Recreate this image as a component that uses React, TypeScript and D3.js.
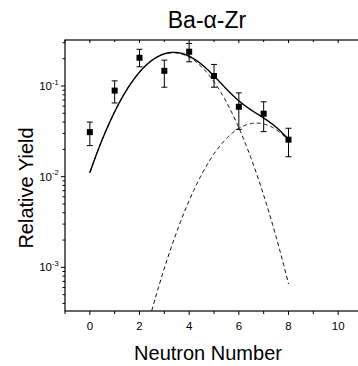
import React from "react";
import * as d3 from "d3";

const neutrons = [0, 1, 2, 3, 4, 5, 6, 7, 8];
const yields = [0.031, 0.089, 0.205, 0.147, 0.239, 0.129, 0.059, 0.0495, 0.0256];
const errLow = [0.022, 0.065, 0.163, 0.097, 0.185, 0.097, 0.0333, 0.0314, 0.0166];
const errHigh = [0.040, 0.114, 0.254, 0.193, 0.295, 0.173, 0.084, 0.067, 0.0342];

// Gaussian fit components: amplitude, centroid, width (sigma)
const fitAmplitude = [0.233, 0.039];
const fitCentroid = [3.35, 6.71];
const fitSigma = [1.357, 1.366];
const fitRange = [0, 8];

const xMajorTicks = [0, 2, 4, 6, 8, 10];
const xMinorTicks = [-1, 1, 3, 5, 7, 9, 11];
const yMajorTicks = [1e-3, 1e-2, 1e-1];
const yMajorLabels = ["-3", "-2", "-1"];

const W = 358;
const H = 366;
const left = 65;
const top = 40;
const bottom = 311;
const right = 363;
const font = "'Liberation Sans', Arial, sans-serif";

export default function App() {
  const x = d3.scaleLinear().domain([-1, 11]).range([left, right]);
  const y = d3.scaleLog().domain([3.3e-4, 0.3217]).range([bottom, top]);

  const gauss = (i: number, n: number) =>
    fitAmplitude[i] * Math.exp(-((n - fitCentroid[i]) ** 2) / (2 * fitSigma[i] ** 2));

  const samples = d3.range(fitRange[0], fitRange[1] + 0.0001, 0.02);
  const line = d3
    .line<[number, number]>()
    .x((d) => x(d[0]))
    .y((d) => y(d[1]));

  const total = line(samples.map((n) => [n, gauss(0, n) + gauss(1, n)]));
  const comp0 = line(samples.map((n) => [n, gauss(0, n)]));
  const comp1 = line(samples.map((n) => [n, Math.max(gauss(1, n), 1e-6)]));

  const yMinor: number[] = [];
  for (let e = -4; e <= 0; e++) {
    for (let k = 2; k <= 9; k++) {
      const v = k * Math.pow(10, e);
      if (v >= 3.3e-4 && v <= 0.3217) yMinor.push(v);
    }
  }

  return (
    <svg
      width={W}
      height={H}
      style={{ position: "absolute", left: 0, top: 0, background: "#fff" }}
      fontFamily={font}
    >
      <defs>
        <clipPath id="plotClip">
          <rect x={left} y={top} width={right - left} height={bottom - top} />
        </clipPath>
      </defs>
      <rect x={0} y={0} width={W} height={H} fill="#fff" />

      {/* title */}
      <text x={207} y={28} fontSize={23} textAnchor="middle" fill="#000">
        Ba-α-Zr
      </text>

      {/* frame */}
      <rect
        x={left}
        y={top}
        width={right - left}
        height={bottom - top}
        fill="none"
        stroke="#000"
        strokeWidth={1.2}
      />

      {/* x ticks */}
      {xMajorTicks.map((t) => (
        <g key={"xM" + t}>
          <line x1={x(t)} x2={x(t)} y1={bottom} y2={bottom + 4} stroke="#000" />
          <line x1={x(t)} x2={x(t)} y1={top} y2={top + 3} stroke="#000" />
          <text x={x(t)} y={330} fontSize={11.5} textAnchor="middle" fill="#000">
            {t}
          </text>
        </g>
      ))}
      {xMinorTicks.map((t) => (
        <g key={"xm" + t}>
          <line x1={x(t)} x2={x(t)} y1={bottom} y2={bottom + 3} stroke="#000" />
          <line x1={x(t)} x2={x(t)} y1={top} y2={top + 2} stroke="#000" />
        </g>
      ))}

      {/* y ticks */}
      {yMajorTicks.map((t, i) => (
        <g key={"yM" + t}>
          <line x1={left - 4} x2={left} y1={y(t)} y2={y(t)} stroke="#000" />
          <text x={52} y={y(t) + 4} fontSize={11.5} textAnchor="end" fill="#000">
            10
          </text>
          <text x={52} y={y(t) - 1.5} fontSize={7.5} textAnchor="start" fill="#000">
            {yMajorLabels[i]}
          </text>
        </g>
      ))}
      {yMinor.map((t) => (
        <line key={"ym" + t} x1={left - 2.5} x2={left} y1={y(t)} y2={y(t)} stroke="#000" />
      ))}

      {/* axis labels */}
      <text x={208} y={360} fontSize={20} textAnchor="middle" fill="#000">
        Neutron Number
      </text>
      <text
        transform={`translate(33,${188}) rotate(-90)`}
        fontSize={20}
        textAnchor="middle"
        fill="#000"
      >
        Relative Yield
      </text>

      {/* fits */}
      <g clipPath="url(#plotClip)" fill="none" stroke="#000">
        <path d={comp0 || ""} strokeWidth={1} strokeDasharray="4,3" />
        <path d={comp1 || ""} strokeWidth={1} strokeDasharray="4,3" />
        <path d={total || ""} strokeWidth={1.4} />
      </g>

      {/* data */}
      {neutrons.map((n, i) => (
        <g key={"p" + n} stroke="#000" strokeWidth={1}>
          <line x1={x(n)} x2={x(n)} y1={y(errLow[i])} y2={y(errHigh[i])} />
          <line x1={x(n) - 3} x2={x(n) + 3} y1={y(errLow[i])} y2={y(errLow[i])} />
          <line x1={x(n) - 3} x2={x(n) + 3} y1={y(errHigh[i])} y2={y(errHigh[i])} />
          <rect x={x(n) - 3} y={y(yields[i]) - 3} width={6} height={6} fill="#000" stroke="none" />
        </g>
      ))}
    </svg>
  );
}
